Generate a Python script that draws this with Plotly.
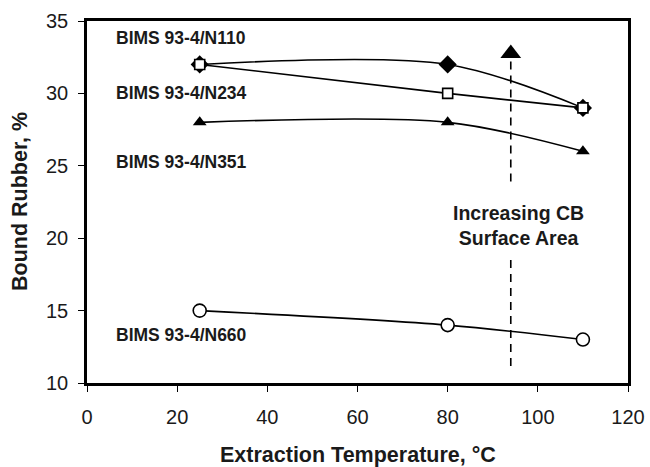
import plotly.graph_objects as go

temps = [25, 80, 110]
n110 = [32, 32, 29]
n234 = [32, 30, 29]
n351 = [28, 28, 26]
n660 = [15, 14, 13]

series_labels = ["BIMS 93-4/N110", "BIMS 93-4/N234", "BIMS 93-4/N351", "BIMS 93-4/N660"]
label_y = [33.85, 30.0, 25.25, 13.3]
label_x = 6.0

arrow_x = 94
arrow_seg1 = [32.2, 23.8]
arrow_seg2 = [18.5, 11.0]
arrow_head_y = 32.75
arrow_text = "Increasing CB<br>Surface Area"
arrow_text_pos = (95.8, 20.85)

x_title = "Extraction Temperature, °C"
y_title = "Bound Rubber, %"

FONT = "Arial, Liberation Sans, Helvetica, sans-serif"
TXT = "#1a1a1a"

fig = go.Figure()
line = dict(color="black", width=1.6, shape="spline", smoothing=0.9)
fig.add_trace(go.Scatter(x=temps, y=n110, mode="lines+markers", line=line,
                         marker=dict(symbol="diamond", size=14, color="black")))
fig.add_trace(go.Scatter(x=temps, y=n234, mode="lines+markers", line=line,
                         marker=dict(symbol="square", size=10, color="white",
                                     line=dict(color="black", width=1.6))))
fig.add_trace(go.Scatter(x=temps, y=n351, mode="lines+markers", line=line,
                         marker=dict(symbol="triangle-up", size=12, color="black")))
fig.add_trace(go.Scatter(x=temps, y=n660, mode="lines+markers", line=line,
                         marker=dict(symbol="circle", size=13, color="white",
                                     line=dict(color="black", width=1.6))))

# arrow
for seg in (arrow_seg1, arrow_seg2):
    fig.add_trace(go.Scatter(x=[arrow_x, arrow_x], y=seg, mode="lines",
                             line=dict(color="black", width=1.6, dash="8px,6px")))
fig.add_trace(go.Scatter(x=[arrow_x], y=[arrow_head_y], mode="markers",
                         marker=dict(symbol="triangle-up", size=18, color="black")))

for txt, yy in zip(series_labels, label_y):
    fig.add_annotation(x=label_x, y=yy, text="<b>" + txt + "</b>", showarrow=False,
                       xanchor="left", yanchor="middle",
                       font=dict(family=FONT, size=17.5, color=TXT))
fig.add_annotation(x=arrow_text_pos[0], y=arrow_text_pos[1], text="<b>" + arrow_text + "</b>",
                   showarrow=False, align="center",
                   font=dict(family=FONT, size=19.5, color=TXT))

# axis titles
fig.add_annotation(xref="paper", yref="paper", x=0.5, y=0, yshift=-72,
                   xanchor="center", yanchor="middle", showarrow=False,
                   text="<b>" + x_title + "</b>", font=dict(family=FONT, size=21.5, color=TXT))
fig.add_annotation(xref="paper", yref="paper", x=0, y=0.5, xshift=-67,
                   xanchor="center", yanchor="middle", showarrow=False, textangle=-90,
                   text="<b>" + y_title + "</b>", font=dict(family=FONT, size=21.5, color=TXT))

fig.update_layout(
    width=650, height=467,
    margin=dict(l=87, r=22, t=21, b=84, autoexpand=False),
    paper_bgcolor="white", plot_bgcolor="white",
    showlegend=False,
    font=dict(family=FONT, color=TXT),
)
fig.update_xaxes(range=[0, 120], dtick=20, showgrid=False, zeroline=False, automargin=False,
                 showline=True, linecolor="black", linewidth=2.5, mirror=True,
                 ticks="outside", ticklen=6, tickcolor="black", tickwidth=1,
                 ticklabelstandoff=8,
                 tickfont=dict(size=20))
fig.update_yaxes(range=[10, 35], dtick=5, showgrid=False, zeroline=False, automargin=False,
                 showline=True, linecolor="black", linewidth=2.5, mirror=True,
                 ticks="outside", ticklen=6, tickcolor="black", tickwidth=1,
                 ticklabelstandoff=6,
                 tickfont=dict(size=20))

fig.write_html("out.html")
